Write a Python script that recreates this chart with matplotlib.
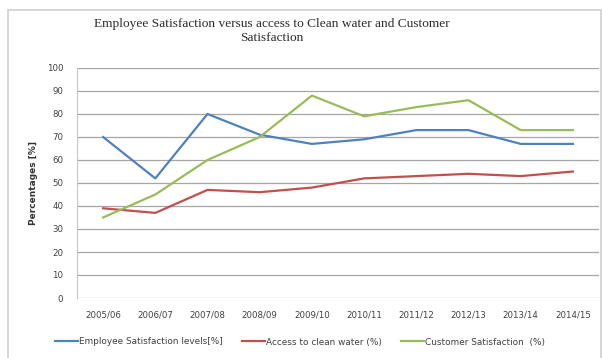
import matplotlib.pyplot as plt
from matplotlib.patches import Rectangle

years = ["2005/06", "2006/07", "2007/08", "2008/09", "2009/10",
         "2010/11", "2011/12", "2012/13", "2013/14", "2014/15"]
employee = [70, 52, 80, 71, 67, 69, 73, 73, 67, 67]
water = [39, 37, 47, 46, 48, 52, 53, 54, 53, 55]
customer = [35, 45, 60, 70, 88, 79, 83, 86, 73, 73]
yticks = list(range(0, 101, 10))

fig = plt.figure(figsize=(6.03, 3.58), dpi=100)
fig.patch.set_facecolor("white")

# outer chart border
fig.patches.append(Rectangle((8 / 603, -0.05), 593 / 603, 1.05 - 10 / 358,
                             transform=fig.transFigure, fill=False,
                             edgecolor="#d0d0d0", linewidth=1.2))

ax = fig.add_axes([77 / 603, 60 / 358, 522 / 603, 230 / 358])
x = range(len(years))
ax.plot(x, employee, color="#4F81BD", lw=1.6, label="Employee Satisfaction levels[%]")
ax.plot(x, water, color="#C0504D", lw=1.6, label="Access to clean water (%)")
ax.plot(x, customer, color="#9BBB59", lw=1.6, label="Customer Satisfaction  (%)")

ax.set_xlim(-0.5, len(years) - 0.5)
ax.set_ylim(0, 100)
ax.set_yticks(yticks)
ax.set_xticks(list(x))
ax.set_xticklabels(years)
ax.yaxis.grid(True, color="#a6a6a6", lw=0.9)
ax.set_axisbelow(True)
for s in ["top", "right", "bottom"]:
    ax.spines[s].set_visible(False)
ax.spines["left"].set_color("#c8c8c8")
ax.tick_params(length=0, labelsize=6.2, colors="#404040")
ax.tick_params(axis="x", pad=9)
ax.tick_params(axis="y", pad=10)

ax.set_ylabel("Percentages [%]", fontsize=6.5, fontweight="bold", color="#333333",
              labelpad=6)

fig.text(272 / 603, 1 - 31 / 358,
         "Employee Satisfaction versus access to Clean water and Customer\nSatisfaction",
         ha="center", va="center", family="Liberation Serif", fontsize=9.6,
         color="#2a2a2a", linespacing=1.25)

fig.legend(loc="center", bbox_to_anchor=(300 / 603, 1 - 342 / 358), ncol=3,
           frameon=False, fontsize=6.4, handlelength=2.6, handletextpad=0.1,
           columnspacing=2.2, labelcolor="#404040")

fig.savefig("out.png", dpi=100)
